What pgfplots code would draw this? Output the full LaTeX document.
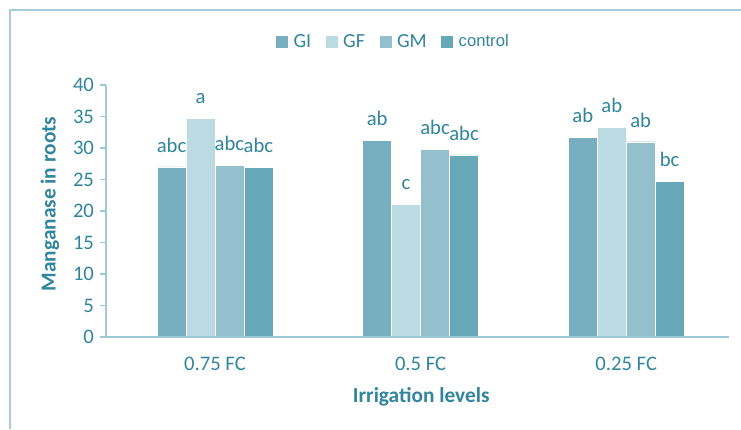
\documentclass[border=0pt]{standalone}
\usepackage{pgfplots}
\pgfplotsset{compat=1.18}
\usepackage{fontspec}
\setmainfont{Carlito}
\newfontfamily\arialfont{Liberation Sans}
\definecolor{txt}{HTML}{31859C}
\definecolor{gi}{HTML}{78AFC0}
\definecolor{gf}{HTML}{BCDAE2}
\definecolor{gm}{HTML}{93C0CC}
\definecolor{ctl}{HTML}{67A8B8}
\definecolor{axc}{HTML}{9DC9D6}
\definecolor{framec}{HTML}{A6CEDA}

\pgfplotsset{
  sq/.style={legend image code/.code={\path[##1,draw=none] (0pt,-4.5pt) rectangle (9pt,4.5pt);}},
}

\begin{document}
\begin{tikzpicture}
\path[use as bounding box] (0pt,0pt) rectangle (555.75pt,321.75pt);
\draw[framec, line width=1.5pt] (7.5pt,0pt) -- (7.5pt,314.25pt) -- (555.75pt,314.25pt);
\begin{axis}[
  at={(79.5pt,69pt)}, anchor=south west,
  scale only axis, width=467.25pt, height=189pt,
  ybar=0pt, bar width=0.1408,
  xmin=-0.53, xmax=2.5, ymin=0, ymax=40,
  ytick={0,5,...,40},
  xtick={0,1,2}, xticklabels={0.75 FC,0.5 FC,0.25 FC},
  axis x line*=bottom, axis y line*=left,
  axis line style={-},
  x axis line style={axc, line width=1.6pt},
  y axis line style={axc, line width=1pt},
  axis on top,
  tick align=outside, major tick length=4.5pt,
  ytick style={axc, line width=1pt},
  xtick style={draw=none},
  /pgf/number format/assume math mode=true,
  ticklabel style={font=\fontsize{15.5}{18}\selectfont, text=txt},
  yticklabel style={xshift=-1pt},
  xticklabel style={yshift=-7pt},
  xlabel={\textbf{Irrigation levels}},
  ylabel={\textbf{Manganase in roots}},
  every axis x label/.style={at={(axis description cs:0.506,-0.238)}, anchor=center,
    font=\fontsize{16}{19}\selectfont, text=txt},
  every axis y label/.style={at={(axis description cs:-0.09,0.528)}, anchor=center, rotate=90,
    font=\fontsize{16}{19}\selectfont, text=txt},
  point meta=explicit symbolic,
  nodes near coords={\pgfplotspointmeta},
  every node near coord/.append style={font=\fontsize{15.5}{18}\selectfont, text=txt, anchor=base, yshift=11pt, inner sep=0pt},
  legend style={at={(axis description cs:0.462,1.171)}, anchor=center, draw=none, fill=none,
    font=\fontsize{15}{18}\selectfont, text=txt,
    /tikz/every even column/.append style={column sep=9pt},
    /tikz/every odd column/.append style={column sep=2pt}},
  legend columns=4,
  clip=false,
]
\addplot[fill=gi, draw=white, line width=0.3pt, sq] coordinates {(0,27.0) [abc] (1,31.2) [ab] (2,31.7) [ab]};
\addplot[fill=gf, draw=white, line width=0.3pt, sq] coordinates {(0,34.7) [a] (1,21.1) [c] (2,33.3) [ab]};
\addplot[fill=gm, draw=white, line width=0.3pt, sq] coordinates {(0,27.2) [abc] (1,29.8) [abc] (2,31.0) [ab]};
\addplot[fill=ctl, draw=white, line width=0.3pt, sq] coordinates {(0,26.9) [abc] (1,28.9) [abc] (2,24.7) [bc]};
\legend{GI, GF, GM, {\arialfont\fontsize{12.5}{15}\selectfont control}}
\end{axis}
\end{tikzpicture}
\end{document}
